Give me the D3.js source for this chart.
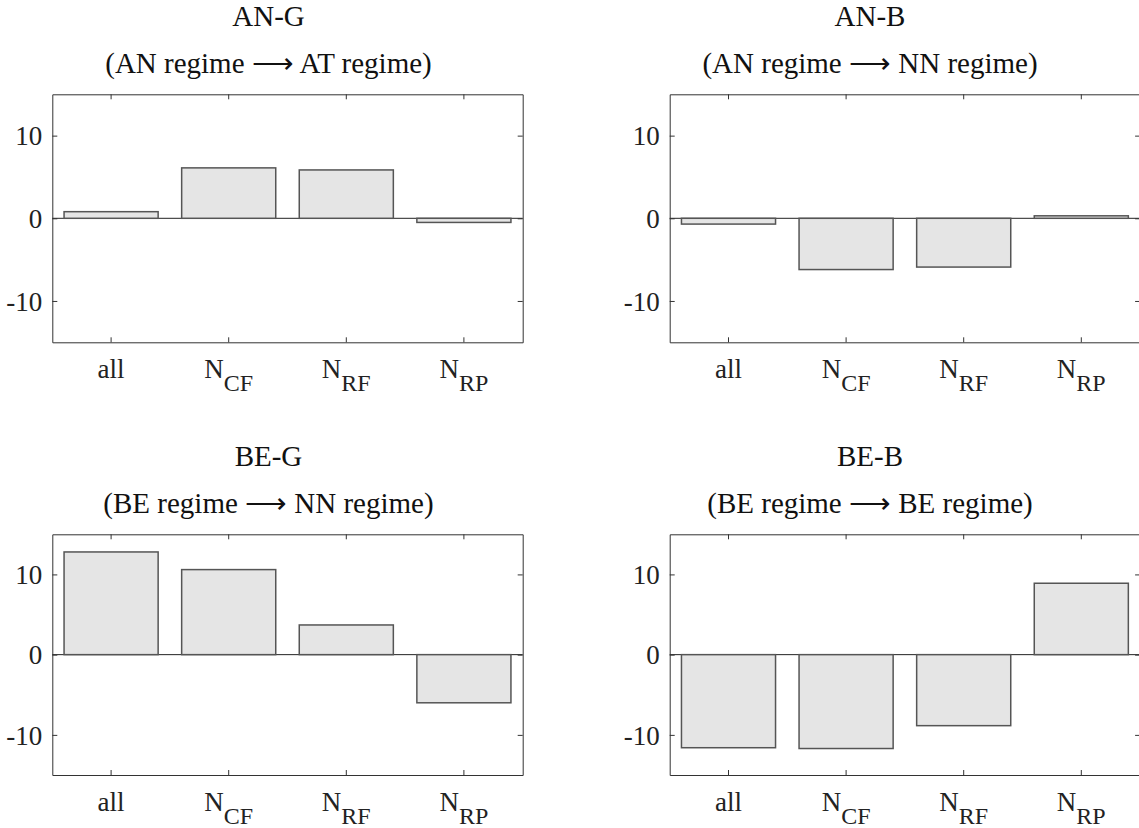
<!DOCTYPE html>
<html lang="en">

<head>
    <meta charset="UTF-8">
    <title>Regime bars</title>
    <script src="https://cdn.jsdelivr.net/npm/d3@7"></script>
</head>

<body>
    <script>
        // data
        const categories = ["all", "N_CF", "N_RF", "N_RP"];
        const titles = ["AN-G", "AN-B", "BE-G", "BE-B"];
        const subtitles = [
            "(AN regime \u27F6 AT regime)",
            "(AN regime \u27F6 NN regime)",
            "(BE regime \u27F6 NN regime)",
            "(BE regime \u27F6 BE regime)"
        ];
        const valuesANG = [0.8, 6.1, 5.85, -0.5];
        const valuesANB = [-0.7, -6.2, -5.9, 0.3];
        const valuesBEG = [12.8, 10.6, 3.7, -6.0];
        const valuesBEB = [-11.6, -11.7, -8.85, 8.9];
        const series = [valuesANG, valuesANB, valuesBEG, valuesBEB];
        const yTicks = [-10, 0, 10];
        const yDomain = [-15, 15];

        const width = 1139, height = 828;
        const svg = d3.select("body").append("svg").attr("width", width).attr("height", height)
            .style("background", "white");

        // panel boxes: left, top, width, height, title centre
        const layout = [
            { x: 52.3, y: 94.3, w: 470.4, h: 248, tx: 268.5 },
            { x: 669.7, y: 94.3, w: 470.4, h: 248, tx: 870 },
            { x: 52.3, y: 534.3, w: 470.4, h: 240.7, tx: 268.5 },
            { x: 669.7, y: 534.3, w: 470.4, h: 240.7, tx: 870 }
        ];

        const font = "'Liberation Serif', 'Times New Roman', serif";
        const axisCol = "#333";

        layout.forEach((p, k) => {
            const g = svg.append("g");
            const x = d3.scaleBand().domain(categories).range([p.x, p.x + p.w])
                .paddingInner(0.2).paddingOuter(0.1);
            const y = d3.scaleLinear().domain(yDomain).range([p.y + p.h, p.y]);

            // titles
            g.append("text").attr("x", p.tx).attr("y", p.y - 68)
                .attr("text-anchor", "middle").style("font-family", font).style("font-size", "29px")
                .attr("fill", "#111").text(titles[k]);
            g.append("text").attr("x", p.tx).attr("y", p.y - 21)
                .attr("text-anchor", "middle").style("font-family", font).style("font-size", "29px")
                .attr("fill", "#111").text(subtitles[k]);

            // baseline at zero
            g.append("line").attr("x1", p.x).attr("x2", p.x + p.w)
                .attr("y1", y(0)).attr("y2", y(0)).attr("stroke", "#222").attr("stroke-width", 1);

            // bars
            g.selectAll("rect.bar").data(series[k]).join("rect").attr("class", "bar")
                .attr("x", (d, i) => x(categories[i]))
                .attr("width", x.bandwidth())
                .attr("y", d => y(Math.max(d, 0)))
                .attr("height", d => Math.abs(y(d) - y(0)))
                .attr("fill", "#e5e5e5").attr("stroke", "#555").attr("stroke-width", 1.5);

            // axes (ticks pointing inward, box on)
            const axL = g.append("g").attr("transform", `translate(${p.x},0)`)
                .call(d3.axisLeft(y).tickValues(yTicks).tickSizeInner(-5).tickSizeOuter(0)
                    .tickPadding(10).tickFormat(d => String(d)));
            const axR = g.append("g").attr("transform", `translate(${p.x + p.w},0)`)
                .call(d3.axisRight(y).tickValues(yTicks).tickSizeInner(-5).tickSizeOuter(0).tickFormat(""));
            const axB = g.append("g").attr("transform", `translate(0,${p.y + p.h})`)
                .call(d3.axisBottom(x).tickValues(categories).tickSizeInner(-5).tickSizeOuter(0).tickFormat(""));
            const axT = g.append("g").attr("transform", `translate(0,${p.y})`)
                .call(d3.axisTop(x).tickValues(categories).tickSizeInner(-5).tickSizeOuter(0).tickFormat(""));
            [axL, axR, axB, axT].forEach(a => {
                a.selectAll("path.domain").attr("stroke", axisCol).attr("stroke-width", 1);
                a.selectAll(".tick line").attr("stroke", axisCol);
            });
            axL.selectAll("text").style("font-family", font).style("font-size", "27px")
                .attr("fill", "#222").attr("dy", "0.34em");

            // category labels with subscripts
            g.selectAll("text.cat").data(categories).join("text").attr("class", "cat")
                .attr("x", d => x(d) + x.bandwidth() / 2)
                .attr("y", p.y + p.h + 36)
                .attr("text-anchor", "middle")
                .style("font-family", font).style("font-size", "27px").attr("fill", "#222")
                .each(function (d) {
                    const parts = d.split("_");
                    const t = d3.select(this);
                    t.append("tspan").text(parts[0]);
                    if (parts[1]) {
                        t.append("tspan").attr("dy", 13).style("font-size", "24px").text(parts[1]);
                    }
                });
        });
    </script>
    <style>
        * {
            margin: 0;
            padding: 0;
        }
    </style>
</body>

</html>
